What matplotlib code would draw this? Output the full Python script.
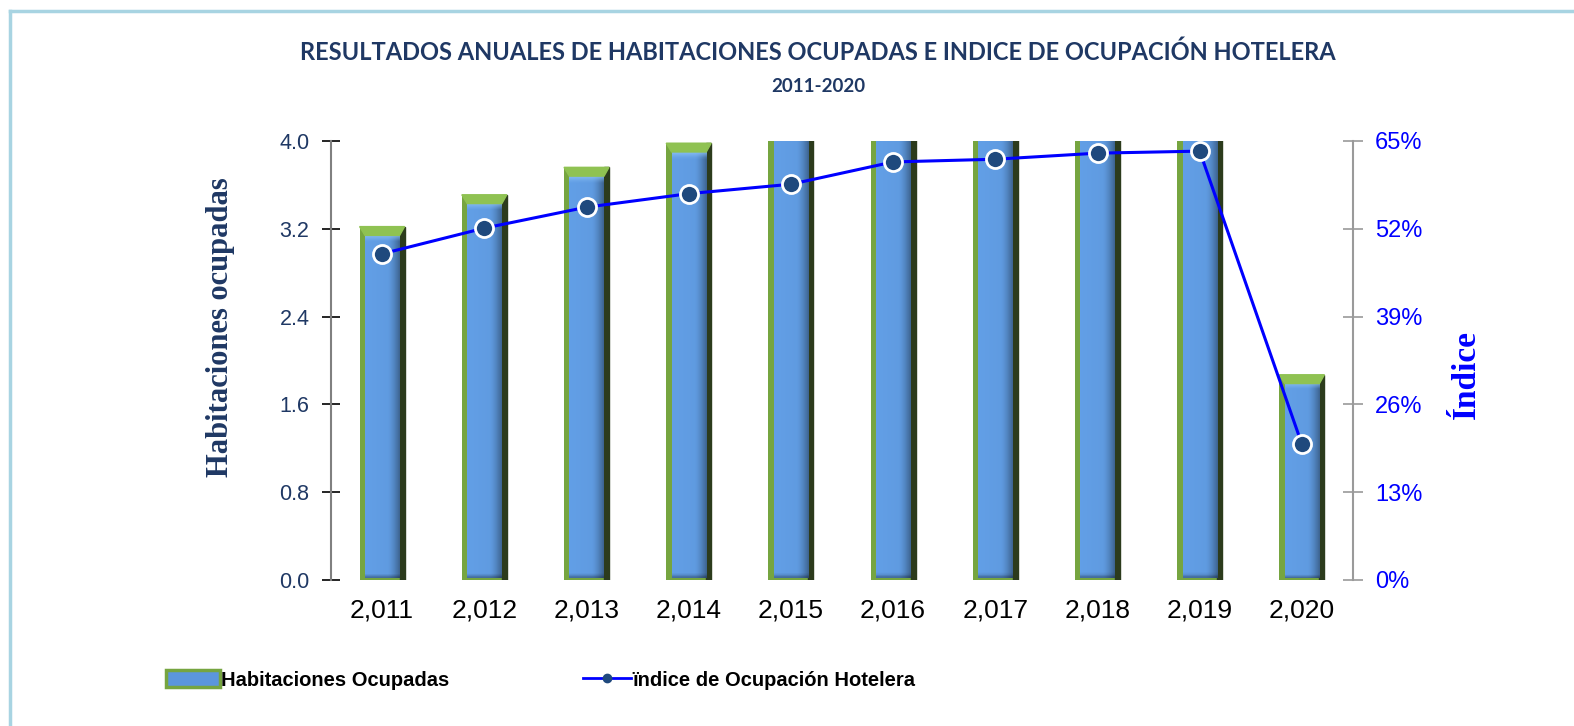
import matplotlib
matplotlib.use("Agg")
import matplotlib.pyplot as plt
import numpy as np
from matplotlib.patches import Rectangle, Polygon, Patch
from matplotlib.lines import Line2D
from matplotlib.ticker import FuncFormatter

plt.rcParams["font.family"] = ["Liberation Sans", "DejaVu Sans"]

# data
years = ["2,011", "2,012", "2,013", "2,014", "2,015", "2,016", "2,017", "2,018", "2,019", "2,020"]
habitaciones = [3.22, 3.51, 3.76, 3.98, 4.15, 4.35, 4.45, 4.55, 4.60, 1.87]  # millones (2015-2019 cortadas en 4.0)
indice = [48.3, 52.1, 55.2, 57.2, 58.6, 61.9, 62.3, 63.2, 63.5, 20.1]  # %

left_ticks = [0.0, 0.8, 1.6, 2.4, 3.2, 4.0]
right_ticks = [0, 13, 26, 39, 52, 65]

NAVY = "#1f3864"
BLUE = "#0000ff"

fig = plt.figure(figsize=(15.74, 7.26), dpi=100)
ax = fig.add_axes([331 / 1574, 1 - 580 / 726, (1353 - 331) / 1574, (580 - 141) / 726])

x = np.arange(len(years))
w = 0.44


def bar_gradient(ny, nx, height):
    # horizontal shading plus a light band at the top
    u = np.linspace(0, 1, nx)
    base = np.array([0.37, 0.60, 0.87])
    shade = 1.0 - 0.35 * np.clip((u - 0.65) / 0.35, 0, 1) ** 1.5 + 0.04 * (1 - u)
    img = base[None, None, :] * shade[None, :, None] * np.ones((ny, 1, 1))
    v = np.linspace(1, 0, ny)  # row 0 = top
    band = 0.05 / height
    top = np.clip((v - (1 - band)) / band, 0, 1)
    img = img + (np.array([0.55, 0.76, 0.96]) - img) * top[:, None, None] * 0.7
    bot = np.clip((0.03 / height - v) / (0.03 / height), 0, 1)
    img = img * (1 - 0.3 * bot[:, None, None])
    return np.clip(img, 0, 1)


# outer green body (data bars)
ax.bar(x, habitaciones, width=w, color="#76a540", zorder=1)
cap = 0.08
for xi, v in zip(x, habitaciones):
    x0, x1 = xi - w / 2, xi + w / 2
    # dark right side
    ax.add_patch(Rectangle((x1 - 0.11 * w, 0), 0.11 * w, v, color="#2c3b1c", zorder=2))
    # inner blue face
    ix0, ix1 = x0 + 0.12 * w, x1 - 0.11 * w
    ax.imshow(bar_gradient(200, 60, v), extent=[ix0, ix1, 0.02, v - cap],
              aspect="auto", zorder=3, interpolation="bilinear")
    # top bevel
    ax.add_patch(Polygon([[x0, v], [x1, v], [ix1, v - cap], [ix0, v - cap]],
                         closed=True, color="#8fc252", zorder=4))

ax.set_xlim(-0.5, len(years) - 0.5)
ax.set_ylim(0, 4.0)
ax.set_yticks(left_ticks)
ax.yaxis.set_major_formatter(FuncFormatter(lambda v, p: f"{v:.1f}"))
ax.set_xticks(x)
ax.set_xticklabels(years)
ax.tick_params(axis="x", length=0, pad=13, labelsize=19, labelcolor="black")
ax.tick_params(axis="y", direction="inout", length=13, width=1.2, color="black",
               pad=9, labelsize=15.5, labelcolor=NAVY)
for s in ["top", "right", "bottom"]:
    ax.spines[s].set_visible(False)
ax.spines["left"].set_color("#808080")
ax.spines["left"].set_linewidth(1.5)
ax.set_ylabel("Habitaciones ocupadas", family="Liberation Serif", fontweight="bold",
              fontsize=22, color=NAVY, labelpad=32)
ax.yaxis.label.set_y((580 - 327) / 439)

ax2 = ax.twinx()
ax2.plot(x, indice, color=BLUE, lw=2.2, marker="o", markersize=13,
         markerfacecolor="#1f497d", markeredgecolor="white", markeredgewidth=2, zorder=5)
ax2.set_ylim(0, 65)
ax2.set_yticks(right_ticks)
ax2.yaxis.set_major_formatter(FuncFormatter(lambda v, p: f"{v:.0f}%"))
ax2.tick_params(axis="y", direction="inout", length=14, width=1.2, color="#9a9a9a",
                pad=9, labelsize=17, labelcolor=BLUE)
for s in ["top", "left", "bottom"]:
    ax2.spines[s].set_visible(False)
ax2.spines["right"].set_color("#9a9a9a")
ax2.spines["right"].set_linewidth(1.5)
ax2.set_ylabel("Índice", family="Liberation Serif", fontweight="bold", fontsize=24,
               color=BLUE, labelpad=20)
ax2.yaxis.label.set_y((580 - 375) / 439)

fig.text(818 / 1574, 1 - 52 / 726, "RESULTADOS ANUALES DE HABITACIONES OCUPADAS E INDICE DE OCUPACIÓN HOTELERA",
         ha="center", va="center", family="Lato", fontweight="bold", fontsize=17, color=NAVY)
fig.text(818 / 1574, 1 - 87 / 726, "2011-2020", ha="center", va="center", family="Lato",
         fontweight="bold", fontsize=13.5, color=NAVY)

# legend
h_bar = Patch(facecolor="#5b96dc", edgecolor="#76a540", linewidth=2.5)
h_line = Line2D([], [], color=BLUE, lw=2, marker="o", markersize=6,
                markerfacecolor="#1f497d", markeredgecolor="#1f497d")
leg_kw = dict(frameon=False, prop={"family": "Liberation Sans", "weight": "bold", "size": 14.5},
              handleheight=0.9, handletextpad=0.05, borderaxespad=0, loc="center left")
fig.legend([h_bar], ["Habitaciones Ocupadas"], bbox_to_anchor=(158 / 1574, 1 - 680 / 726),
           handlelength=2.7, **leg_kw)
fig.legend([h_line], ["ïndice de Ocupación Hotelera"], bbox_to_anchor=(575 / 1574, 1 - 680 / 726),
           handlelength=2.4, **leg_kw)

# light blue frame (top and left edges visible)
fig.add_artist(Line2D([10 / 1574, 1], [1 - 10.5 / 726, 1 - 10.5 / 726], transform=fig.transFigure,
                      color="#a8d4e2", lw=2.5))
fig.add_artist(Line2D([10 / 1574, 10 / 1574], [0, 1 - 10.5 / 726], transform=fig.transFigure,
                      color="#a8d4e2", lw=2.5))

fig.savefig("out.png", dpi=100)
